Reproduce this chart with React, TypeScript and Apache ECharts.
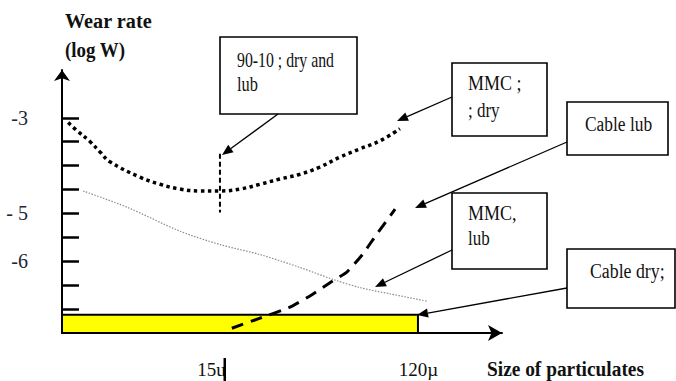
import React, { useEffect, useRef } from "react";
import * as echarts from "echarts";

// ---- data ----
const xRange = [0, 100];
const yRange = [-7.5, -2];
const yTickValues = [-3, -3.5, -4, -4.5, -5, -5.5, -6, -6.5, -7];
const yLabelValues = [-3, -5, -6];
const yLabelTexts = ["-3", "- 5", "-6"];
const xLabelValues = [34, 81];
const xLabelTexts = ["15u", "120µ"];

const mmcDryX = [1.4, 3.4, 6.4, 8.6, 10.9, 17.7, 22.3, 26.8, 31.4, 35.9, 40.5, 45, 49.5, 54.1, 58.6, 63.2, 67.7, 72.3, 76.8];
const mmcDryY = [-3.1, -3.27, -3.5, -3.71, -3.92, -4.24, -4.39, -4.49, -4.53, -4.53, -4.49, -4.39, -4.28, -4.18, -4.03, -3.82, -3.65, -3.48, -3.23];

const cableLubX = [4.8, 14.8, 26.8, 35.9, 45, 54.1, 61.6, 67.7, 74.5, 83.2];
const cableLubY = [-4.53, -4.87, -5.37, -5.65, -5.86, -6.13, -6.38, -6.55, -6.68, -6.84];

const mmcLubX = [38.6, 45, 51.8, 56.8, 60.9, 64.8, 68.2, 71.1, 75.7];
const mmcLubY = [-7.4, -7.19, -6.96, -6.7, -6.45, -6.22, -5.87, -5.49, -4.91];

const nineTenX = [35.9, 35.9];
const nineTenY = [-3.75, -4.98];

// cable dry band: [xStart, xEnd, yBottom, yTop]
const cableDryBand = [0, 80.9, -7.5, -7.12];

const zip = (xs: number[], ys: number[]) => xs.map((x, i) => [x, ys[i]]);

const SERIF = "'Liberation Serif', 'Times New Roman', serif";

function arrow(x1: number, y1: number, x2: number, y2: number) {
  const dx = x2 - x1;
  const dy = y2 - y1;
  const len = Math.sqrt(dx * dx + dy * dy);
  const ux = dx / len;
  const uy = dy / len;
  const hl = 11;
  const hw = 4.5;
  const bx = x2 - ux * hl;
  const by = y2 - uy * hl;
  return [
    {
      type: "line",
      z: 100,
      shape: { x1, y1, x2: bx, y2: by },
      style: { stroke: "#000", lineWidth: 1.3 },
    },
    {
      type: "polygon",
      z: 100,
      shape: {
        points: [
          [x2, y2],
          [bx - uy * hw, by + ux * hw],
          [bx + uy * hw, by - ux * hw],
        ],
      },
      style: { fill: "#000" },
    },
  ];
}

function box(x: number, y: number, w: number, h: number) {
  return {
    type: "rect",
    z: 99,
    shape: { x, y, width: w, height: h },
    style: { fill: "#fff", stroke: "#000", lineWidth: 1.6 },
  };
}

function label(text: string, x: number, y: number, size = 20, sx = 0.82, bold = false) {
  return {
    type: "text",
    z: 101,
    x,
    y,
    scaleX: sx,
    style: {
      text,
      fontFamily: SERIF,
      fontSize: size,
      fontWeight: bold ? "bold" : "normal",
      fill: "#111",
      align: "left",
      verticalAlign: "middle",
    },
  };
}

export default function App() {
  const ref = useRef<HTMLDivElement>(null);

  useEffect(() => {
    if (!ref.current) return;
    const chart = echarts.init(ref.current, undefined, { renderer: "svg" });

    const option: any = {
      animation: false,
      backgroundColor: "#fff",
      grid: { left: 62, right: 174, top: 70, bottom: 48 },
      xAxis: {
        type: "value",
        min: xRange[0],
        max: xRange[1],
        splitLine: { show: false },
        axisLine: {
          show: true,
          symbol: ["none", "arrow"],
          symbolSize: [12, 14],
          lineStyle: { color: "#000", width: 2 },
        },
        axisTick: { show: false },
        axisLabel: {
          customValues: xLabelValues,
          formatter: (v: number) => {
            const i = xLabelValues.indexOf(v);
            return i >= 0 ? xLabelTexts[i] : "";
          },
          margin: 27,
          fontFamily: SERIF,
          fontSize: 19,
          color: "#111",
        },
      },
      yAxis: {
        type: "value",
        min: yRange[0],
        max: yRange[1],
        splitLine: { show: false },
        axisLine: {
          show: true,
          symbol: ["none", "arrow"],
          symbolSize: [12, 11],
          lineStyle: { color: "#000", width: 2 },
        },
        axisTick: {
          show: true,
          inside: true,
          length: 17,
          customValues: yTickValues,
          lineStyle: { color: "#000", width: 2.5 },
        },
        axisLabel: {
          customValues: yLabelValues,
          formatter: (v: number) => {
            const i = yLabelValues.indexOf(v);
            return i >= 0 ? yLabelTexts[i] : "";
          },
          margin: 34,
          padding: [4, 0, 0, 0],
          fontFamily: SERIF,
          fontSize: 20,
          color: "#1e2638",
        },
      },
      series: [
        {
          name: "Cable dry",
          type: "custom",
          z: 1,
          data: [cableDryBand],
          renderItem: (params: any, api: any) => {
            const p0 = api.coord([api.value(0), api.value(3)]);
            const p1 = api.coord([api.value(1), api.value(2)]);
            return {
              type: "rect",
              shape: { x: p0[0], y: p0[1], width: p1[0] - p0[0], height: p1[1] - p0[1] },
              style: { fill: "#ffff00", stroke: "#000", lineWidth: 2 },
            };
          },
        },
        {
          name: "Cable lub",
          type: "line",
          z: 3,
          smooth: 0.3,
          symbol: "none",
          data: zip(cableLubX, cableLubY),
          lineStyle: { color: "#8a8a8a", width: 1.2, type: [1.5, 1.5] },
        },
        {
          name: "MMC dry",
          type: "line",
          z: 4,
          smooth: 0.4,
          symbol: "none",
          data: zip(mmcDryX, mmcDryY),
          lineStyle: { color: "#000", width: 3.5, type: [3.5, 3.5] },
        },
        {
          name: "MMC lub",
          type: "line",
          z: 4,
          smooth: 0.15,
          symbol: "none",
          data: zip(mmcLubX, mmcLubY),
          lineStyle: { color: "#000", width: 3, type: [12, 8] },
        },
        {
          name: "90-10 dry and lub",
          type: "line",
          z: 4,
          symbol: "none",
          data: zip(nineTenX, nineTenY),
          lineStyle: { color: "#000", width: 2, type: [5, 3] },
        },
      ],
      graphic: [
        label("Wear rate", 65, 21, 22, 0.92, true),
        label("(log W)", 65, 49, 22, 0.86, true),
        label("Size of particulates", 487, 369, 22, 0.88, true),
        { type: "rect", z: 100, shape: { x: 223.5, y: 358, width: 2.5, height: 23 }, style: { fill: "#000" } },

        box(220, 37, 137, 77),
        label("90-10 ; dry and", 237, 60, 20, 0.79),
        label("lub", 237, 84, 20, 0.82),
        ...arrow(278, 114, 222, 155),

        box(452, 63, 95, 73),
        label("MMC ;", 468, 83, 20, 0.9),
        label("; dry", 468, 110, 20, 0.85),
        ...arrow(452, 97, 397, 121),

        box(567, 102, 101, 53),
        label("Cable lub", 585, 124, 20, 0.87),
        ...arrow(567, 142, 415, 208),

        box(452, 193, 95, 76),
        label("MMC,", 468, 213, 20, 0.9),
        label("lub", 468, 238, 20, 0.85),
        ...arrow(452, 250, 375, 287),

        box(567, 249, 108, 59),
        label("Cable dry;", 590, 271, 20, 0.89),
        ...arrow(567, 288, 417, 315),
      ],
    };

    chart.setOption(option);
    return () => chart.dispose();
  }, []);

  return (
    <div
      ref={ref}
      style={{ position: "fixed", left: 0, top: 0, width: 676, height: 381, background: "#fff" }}
    />
  );
}
